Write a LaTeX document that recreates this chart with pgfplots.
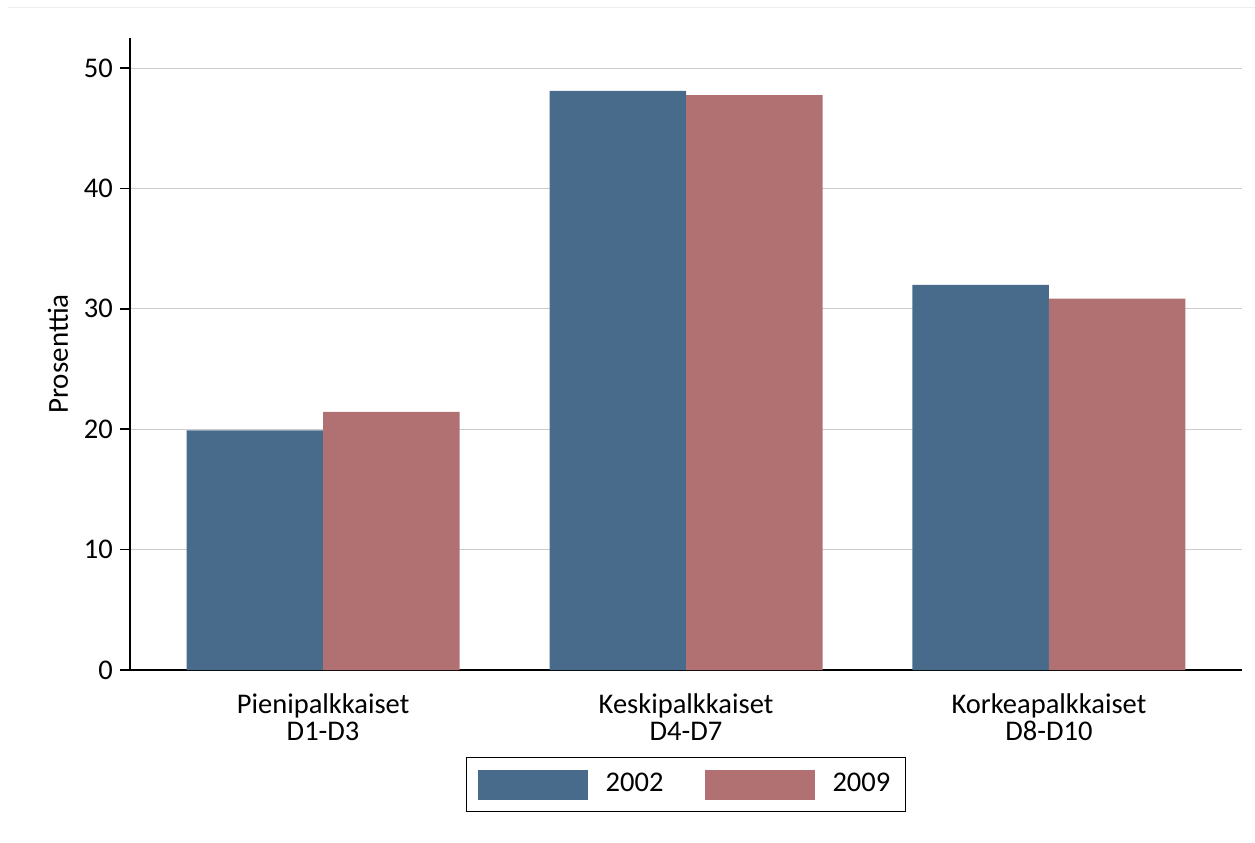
\documentclass[border=0pt]{standalone}
\usepackage{fontspec}
\setmainfont{Carlito}
\usepackage{pgfplots}
\pgfplotsset{compat=1.18}
\definecolor{c2002}{RGB}{72,107,140}
\definecolor{c2009}{RGB}{177,113,115}
\definecolor{topline}{RGB}{236,239,240}
\begin{document}
\fontsize{28.5bp}{34bp}\selectfont
\begin{tikzpicture}[x=1bp,y=1bp]
\path[use as bounding box] (-130,-173) rectangle (1125,670);
\draw[topline, line width=1bp] (-122,662) -- (1125,662);
\begin{axis}[
  at={(0,0)}, anchor=south west,
  scale only axis, width=1112bp, height=632bp,
  xmin=-0.532, xmax=2.532, ymin=0, ymax=52.5,
  axis x line*=bottom, axis y line*=left,
  axis line style={line width=1.5bp, -},
  ybar=0pt, bar width=136.5bp,
  xtick={0,1,2},
  xticklabels={{Pienipalkkaiset\\D1-D3},{Keskipalkkaiset\\D4-D7},{Korkeapalkkaiset\\D8-D10}},
  xticklabel style={align=center, font=\fontsize{28.5bp}{27bp}\selectfont, inner sep=0pt, yshift=-14bp},
  major x tick style={draw=none},
  ytick={0,10,20,30,40,50},
  yticklabels={0,10,20,30,40,50},
  yticklabel style={font=\fontsize{28.5bp}{34bp}\selectfont, inner sep=0pt, xshift=-7bp},
  /pgf/number format/assume math mode=true,
  tick align=outside, major tick length=10bp,
  major y tick style={line width=1.5bp, black},
  ymajorgrids, grid style={draw=gray!40, line width=1bp},
  ylabel={Prosenttia},
  ylabel style={font=\fontsize{29bp}{34bp}\selectfont, at={(axis description cs:-0.0647,0.5)}, anchor=center},
  legend columns=2,
  legend image code/.code={\fill[#1] (0bp,-15bp) rectangle (110bp,15bp);},
  legend style={at={(axis description cs:0.5,-0.1377)}, anchor=north,
    draw=black, line width=1bp, inner xsep=11bp, inner ysep=12bp,
    font=\fontsize{28.5bp}{34bp}\selectfont,
    nodes={inner xsep=4bp, inner ysep=2bp},
    /tikz/every odd column/.append style={column sep=14bp},
    /tikz/every even column/.append style={column sep=37bp}},
]
\addplot[fill=c2002, draw=none] coordinates {(0,19.9) (1,48.1) (2,32.0)};
\addplot[fill=c2009, draw=none] coordinates {(0,21.45) (1,47.75) (2,30.85)};
\legend{2002,2009}
\end{axis}
\end{tikzpicture}
\end{document}
